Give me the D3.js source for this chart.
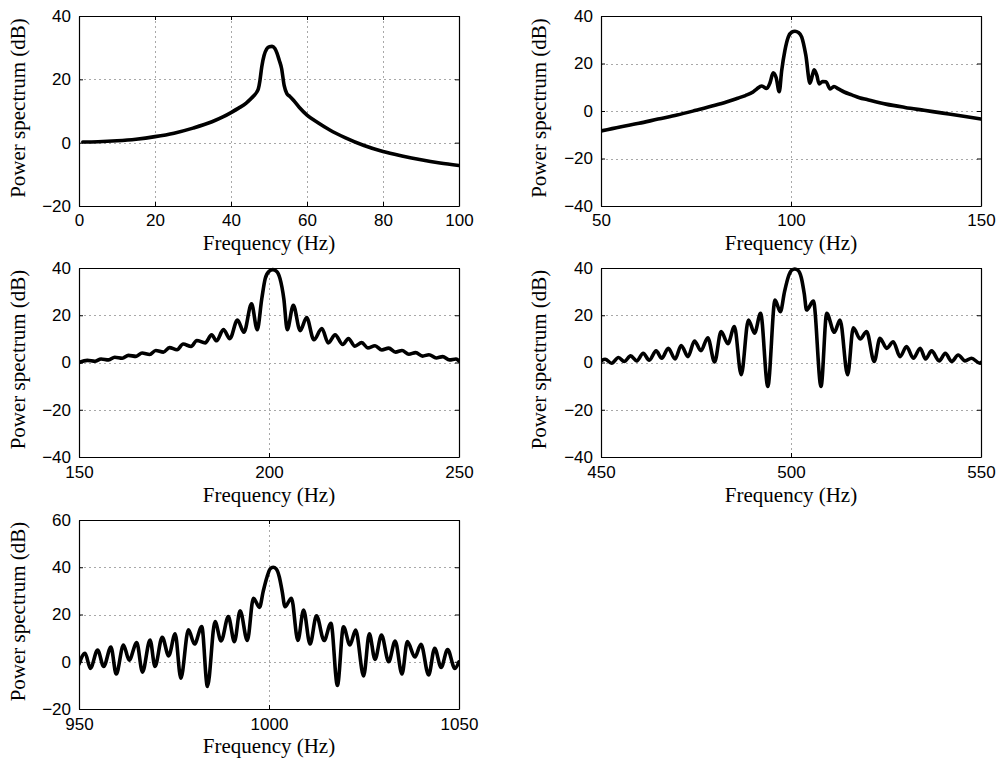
<!DOCTYPE html>
<html><head><meta charset="utf-8">
<script src="https://cdn.jsdelivr.net/npm/d3@7"></script>
<style>body{margin:0;background:#fff}svg{display:block}</style>
</head><body>
<svg id="chart" width="1000" height="771"></svg>
<script>
// ---- data ----
const freq1 = [1,5,10,15,20,25,30,35,38,40,42,44,45,46,46.8,47.2,47.6,48.1,48.7,49.4,50.1,50.8,51.5,52.1,52.7,53.3,54,54.7,55.5,56.5,58,60,63,66,70,75,80,85,90,95,100];
const power1 = [0.2,0.3,0.6,1.1,1.9,3.0,4.6,6.6,8.2,9.5,10.9,12.5,13.6,14.8,16.0,17.0,19.5,24,27.5,29.6,30.3,30.4,29.8,28.3,26,23.5,18,15.5,14.6,13.3,11.1,8.7,6.2,4.0,1.6,-0.9,-2.8,-4.2,-5.4,-6.4,-7.2];

const freq2 = [50,55,60,65,70,75,80,83,86,88,90,91,92.3,93.6,94.5,95.3,96.1,96.9,97.55,98.4,99.3,100.2,101.05,101.9,102.8,103.9,105,105.7,106.1,106.8,107.4,108.3,109.2,110.3,111.3,112.5,114,116,118,120,125,130,135,140,145,150];
const power2 = [-8.4,-6.7,-5.2,-3.4,-1.7,0.3,2.4,3.8,5.4,6.5,8.0,9.3,10.5,9.5,12,16.1,14,8.1,17,25.5,31.2,33.2,33.6,33.1,31.2,23.5,11.7,15.5,17.3,15,11.4,12.4,12.3,9.3,10.3,9.3,8,6.8,5.6,4.8,2.9,1.5,0.3,-0.9,-2.1,-3.4];

const freq3 = [150,152.2,154.2,155.8,157.8,159.4,161.4,163,165,166.6,168.6,170.2,172.2,173.8,175.8,177.4,179.5,181,183.2,184.9,186.2,188,189.7,191.7,193.4,195.4,196.9,198.1,199,200,201,202,202.9,203.9,204.8,206.4,208.2,209.9,211.8,213.9,215.6,217.4,219.4,220.9,222.6,224.4,226,227.9,229.7,231.5,233.3,235,236.8,238.6,240.4,242.1,244,245.7,247.5,249.2,250];
const power3 = [0,0.9,0.5,1.5,1.1,2.2,1.8,3.0,2.6,4.0,3.4,5.1,4.4,6.3,5.4,7.8,6.8,9.3,8.3,11.7,9.2,13.9,10.1,18,12.8,24.8,13.9,27,35.5,38.6,39.3,38.6,35.5,27,13.9,24.2,13.5,19,9.6,14.4,8.3,11.7,7.6,10.1,6.9,8.4,6.2,7.1,5.3,6.1,4.4,5.1,3.5,4.2,2.7,3.3,1.9,2.5,1.1,1.5,0.6];

const freq4 = [450,451.1,452.8,454.6,456.1,457.8,459.4,461.1,462.7,464.5,466,467.7,469.5,471.1,472.9,474.6,476.3,478.1,479.9,481.6,483.4,485.1,486.9,488.8,490.4,492,493.9,495.8,497.2,498.3,499.3,500.2,501,501.8,502.7,503.5,504.1,505.9,507.9,509.4,511.4,512.9,514.9,516.4,518.2,519.9,521.9,523.4,525.2,526.9,528.7,530.4,532.2,534,535.4,537,539,540.6,542.3,544,545.8,547.5,549.7,550];
const power4 = [0.7,1.4,-0.3,2.1,0.4,2.8,0.7,3.9,1.0,4.9,1.8,6.0,1.5,7.2,2.5,9.1,5.0,10.5,0.2,13.1,8,15.2,-5.2,18.0,12.4,20.8,-10.1,26.4,21.5,30,36.3,39.1,39.6,39.1,36,29,22.2,26,-10.1,20.8,12.8,18,-5.2,14.7,10,13.1,0.4,10.2,6,8.8,2.5,6.7,1.8,6.0,1.5,4.9,0.7,3.9,0.4,3.2,0.7,1.8,-0.3,0];

const freq5 = [950,951.6,953,954.9,956.5,958.4,959.8,961.7,963.2,965.2,966.7,968.7,970,971.9,973.6,975.3,976.8,978.8,980.4,982.3,983.8,985.8,987.4,989.3,990.9,992.4,994.3,995.9,997.5,998.5,999.5,1000.3,1001.1,1001.9,1002.7,1003.5,1004.2,1005.9,1007.6,1009.1,1010.8,1012.5,1014.5,1016.3,1018,1019.6,1021.3,1022.8,1024.9,1026.4,1027.9,1029.6,1031.5,1033.2,1035,1036.4,1038.4,1040,1042,1043.6,1045.3,1047,1048.9,1050];
const power5 = [-1,3.6,-2.8,5.0,-2,6.2,-5.2,7.1,0.7,8.1,-4.4,9.2,-2,10.4,2.5,11.8,-7,13.5,7.5,14.9,-10.5,17,8.8,19.1,8.5,21.6,9,26.9,23,30,36,39.3,40,39.3,36,29.5,23.3,26.9,9,21.9,7.5,19.5,9,16.3,-10,14.8,7.1,13.4,-6,11.8,1,11.3,0,8.8,-5.2,8.5,2,7.4,-5.6,5.7,-2.4,5.2,-2.8,0];

const xTicks1 = [0,20,40,60,80,100];
const yTicks1 = [-20,0,20,40];
const xTicks2 = [50,100,150];
const yTicks2 = [-40,-20,0,20,40];
const xTicks3 = [150,200,250];
const yTicks3 = [-40,-20,0,20,40];
const xTicks4 = [450,500,550];
const yTicks4 = [-40,-20,0,20,40];
const xTicks5 = [950,1000,1050];
const yTicks5 = [-20,0,20,40,60];

const xLabel = "Frequency (Hz)";
const yLabel = "Power spectrum (dB)";

// ---- layout ----
const panels = [
  {f: freq1, p: power1, xt: xTicks1, yt: yTicks1, left: 79,  top: 16,  w: 380, h: 190, tp: 8,  lb: 250, yl: 25},
  {f: freq2, p: power2, xt: xTicks2, yt: yTicks2, left: 601, top: 16,  w: 380, h: 190, tp: 8,  lb: 250, yl: 546},
  {f: freq3, p: power3, xt: xTicks3, yt: yTicks3, left: 79,  top: 268, w: 380, h: 189, tp: 9,  lb: 502, yl: 25},
  {f: freq4, p: power4, xt: xTicks4, yt: yTicks4, left: 601, top: 268, w: 380, h: 189, tp: 9,  lb: 502, yl: 546},
  {f: freq5, p: power5, xt: xTicks5, yt: yTicks5, left: 79,  top: 520, w: 380, h: 189, tp: 9,  lb: 753, yl: 25}
];

const svg = d3.select("#chart");
const tickFont = "'Liberation Sans', Arial, Helvetica, sans-serif";
const labelFont = "'Liberation Serif', 'Times New Roman', Times, serif";
const fmt = d3.format("d");

panels.forEach((P, i) => {
  const x = d3.scaleLinear().domain([P.xt[0], P.xt[P.xt.length - 1]]).range([P.left, P.left + P.w]);
  const y = d3.scaleLinear().domain([P.yt[0], P.yt[P.yt.length - 1]]).range([P.top + P.h, P.top]);
  const g = svg.append("g");

  // grid
  const grid = g.append("g").attr("stroke", "#a8a8a8").attr("stroke-width", 1).attr("stroke-dasharray", "2,3");
  P.xt.slice(1, -1).forEach(v => {
    const xx = Math.round(x(v)) + 0.5;
    grid.append("line").attr("x1", xx).attr("x2", xx).attr("y1", P.top).attr("y2", P.top + P.h);
  });
  P.yt.slice(1, -1).forEach(v => {
    const yy = Math.round(y(v)) + 0.5;
    grid.append("line").attr("x1", P.left).attr("x2", P.left + P.w).attr("y1", yy).attr("y2", yy);
  });

  // curve
  const clipId = "clip" + i;
  svg.append("defs").append("clipPath").attr("id", clipId)
    .append("rect").attr("x", P.left).attr("y", P.top - 1).attr("width", P.w).attr("height", P.h + 2);
  const line = d3.line().x(d => x(d[0])).y(d => y(d[1])).curve(d3.curveMonotoneX);
  g.append("path").datum(d3.zip(P.f, P.p))
    .attr("clip-path", `url(#${clipId})`)
    .attr("fill", "none").attr("stroke", "#000").attr("stroke-width", 3.6)
    .attr("stroke-linejoin", "round").attr("stroke-linecap", "round")
    .attr("d", line);

  // axes (inward ticks, box)
  const bottom = g.append("g").attr("transform", `translate(0,${P.top + P.h})`)
    .call(d3.axisBottom(x).tickValues(P.xt).tickFormat(fmt).tickSizeInner(-4).tickSizeOuter(0).tickPadding(P.tp));
  const top = g.append("g").attr("transform", `translate(0,${P.top})`)
    .call(d3.axisTop(x).tickValues(P.xt).tickSizeInner(-4).tickSizeOuter(0).tickFormat(""));
  const leftAx = g.append("g").attr("transform", `translate(${P.left},0)`)
    .call(d3.axisLeft(y).tickValues(P.yt).tickFormat(fmt).tickSizeInner(-4).tickSizeOuter(0).tickPadding(8));
  const rightAx = g.append("g").attr("transform", `translate(${P.left + P.w},0)`)
    .call(d3.axisRight(y).tickValues(P.yt).tickSizeInner(-4).tickSizeOuter(0).tickFormat(""));
  [bottom, top, leftAx, rightAx].forEach(a => {
    a.attr("font-family", tickFont).attr("font-size", 17);
    a.selectAll("path.domain").attr("stroke", "#000").attr("stroke-width", 1.2);
    a.selectAll(".tick line").attr("stroke", "#000");
    a.selectAll("text").attr("fill", "#000");
  });

  // axis labels
  g.append("text").attr("x", P.left + P.w / 2).attr("y", P.lb)
    .attr("text-anchor", "middle").attr("font-family", labelFont).attr("font-size", 21)
    .attr("fill", "#000").text(xLabel);
  g.append("text")
    .attr("transform", `translate(${P.yl},${P.top + P.h / 2 - 3}) rotate(-90)`)
    .attr("text-anchor", "middle").attr("font-family", labelFont).attr("font-size", 21)
    .attr("fill", "#000").text(yLabel);
});
</script>
</body></html>
